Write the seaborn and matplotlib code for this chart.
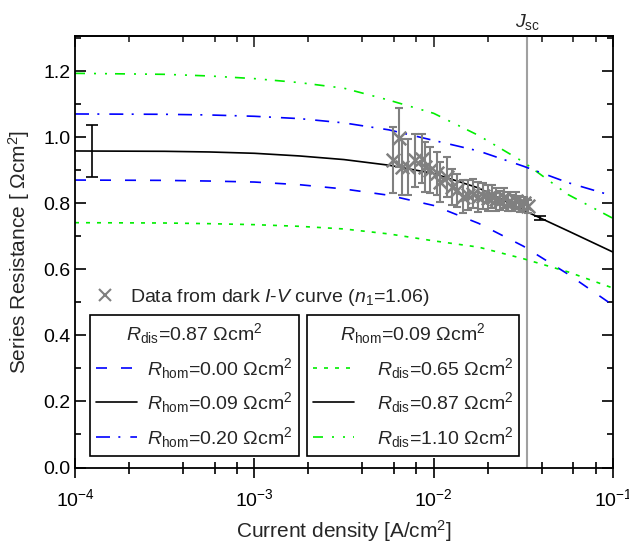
import matplotlib
matplotlib.use("Agg")
import matplotlib.pyplot as plt
import matplotlib.ticker as mticker
import seaborn as sns
import numpy as np
import pandas as pd
from matplotlib.lines import Line2D

# ---------------- data ----------------
J_model = [1e-4, 3.16e-4, 5.62e-4, 1e-3, 1.78e-3, 3.16e-3, 5.62e-3, 1e-2, 1.78e-2, 3.16e-2, 5.62e-2, 1e-1]
R_hom000 = [0.870, 0.869, 0.867, 0.864, 0.856, 0.843, 0.824, 0.793, 0.739, 0.670, 0.585, 0.491]
R_hom009 = [0.958, 0.957, 0.955, 0.951, 0.943, 0.932, 0.915, 0.890, 0.846, 0.779, 0.716, 0.652]
R_hom020 = [1.070, 1.069, 1.067, 1.063, 1.056, 1.043, 1.022, 0.990, 0.958, 0.912, 0.862, 0.822]
R_dis065 = [0.741, 0.740, 0.738, 0.735, 0.730, 0.722, 0.707, 0.686, 0.667, 0.632, 0.592, 0.543]
R_dis110 = [1.193, 1.190, 1.185, 1.177, 1.165, 1.148, 1.112, 1.072, 1.005, 0.925, 0.826, 0.754]

J_data = [5.94e-3, 6.41e-3, 6.67e-3, 7.20e-3, 7.87e-3, 8.61e-3, 8.95e-3, 9.55e-3,
          1.045e-2, 1.086e-2, 1.189e-2, 1.268e-2, 1.352e-2, 1.459e-2, 1.556e-2,
          1.660e-2, 1.770e-2, 1.888e-2, 2.01e-2, 2.12e-2, 2.23e-2, 2.35e-2,
          2.47e-2, 2.60e-2, 2.74e-2, 2.88e-2, 3.03e-2, 3.19e-2, 3.36e-2]
R_data = [0.930, 0.998, 0.910, 0.910, 0.930, 0.935, 0.910, 0.900, 0.890, 0.865,
          0.880, 0.849, 0.839, 0.819, 0.824, 0.829, 0.819, 0.822, 0.815, 0.820,
          0.812, 0.808, 0.815, 0.805, 0.800, 0.808, 0.798, 0.800, 0.790]
E_data = [0.100, 0.090, 0.085, 0.085, 0.080, 0.075, 0.075, 0.070, 0.065, 0.060,
          0.060, 0.055, 0.050, 0.050, 0.045, 0.045, 0.045, 0.040, 0.040, 0.035,
          0.035, 0.030, 0.030, 0.030, 0.025, 0.025, 0.025, 0.020, 0.020]

J_err_black = [1.25e-4, 3.93e-2]
R_err_black = [0.958, 0.755]
E_err_black = [0.078, 0.006]

J_sc = 0.0332

# ---------------- style ----------------
sns.set_theme(style="ticks")
plt.rcParams["font.family"] = ["Liberation Sans", "DejaVu Sans"]
plt.rcParams["mathtext.fontset"] = "custom"
plt.rcParams["mathtext.rm"] = "Liberation Sans"
plt.rcParams["mathtext.it"] = "Liberation Sans:italic"
plt.rcParams["mathtext.bf"] = "Liberation Sans:bold"
FS = 14

fig = plt.figure(figsize=(6.29, 5.47), dpi=100)
ax = fig.add_axes([75/629, 1-467.5/547, 538/629, 431.5/547])

BLUE = "#0000ff"
GREEN = "#00ee00"
LW = 1.2

ds_dash = (0, (6.6, 8.4))
ds_dot = (0, (2.4, 4.2))
ds_dashdot = (0, (8.4, 5.0, 1.2, 6.0))
ds_dashdotdot = (0, (6.0, 5.4, 1.2, 5.4, 1.2, 4.8))

sns.lineplot(x=J_model, y=R_dis110, ax=ax, color=GREEN, lw=LW, linestyle=ds_dashdotdot)
sns.lineplot(x=J_model, y=R_hom020, ax=ax, color=BLUE, lw=LW, linestyle=ds_dashdot)
sns.lineplot(x=J_model, y=R_hom009, ax=ax, color="black", lw=LW)
sns.lineplot(x=J_model, y=R_hom000, ax=ax, color=BLUE, lw=LW, linestyle=ds_dash)
sns.lineplot(x=J_model, y=R_dis065, ax=ax, color=GREEN, lw=LW, linestyle=ds_dot)

ax.errorbar(J_err_black, R_err_black, yerr=E_err_black, fmt="none", ecolor="black",
            elinewidth=1.2, capsize=4, capthick=1.2, zorder=4)

GRAY = "#808080"
ax.errorbar(J_data, R_data, yerr=E_data, fmt="none", ecolor=GRAY,
            elinewidth=1.5, capsize=3, capthick=1.5, zorder=5)
sns.scatterplot(x=J_data, y=R_data, ax=ax, marker="x", color=GRAY, s=95,
                linewidth=1.8, zorder=6)

ax.axvline(J_sc, color="#a0a0a0", lw=1.5, zorder=1)
ax.text(J_sc, 1.318, r"$J_\mathrm{sc}$", ha="center", va="bottom", fontsize=FS)

ax.set_xscale("log")
ax.set_xlim(1e-4, 1e-1)
ax.set_ylim(0, 1.306)
ax.xaxis.set_major_locator(mticker.LogLocator(base=10, numticks=10))
ax.xaxis.set_minor_locator(mticker.LogLocator(base=10, subs=(2, 4, 6, 8), numticks=10))
ax.xaxis.set_minor_formatter(mticker.NullFormatter())
ax.set_yticks(np.arange(0, 1.21, 0.2))
ax.set_yticklabels([f"{v:.1f}" for v in np.arange(0, 1.21, 0.2)])
ax.set_yticks(np.arange(0.1, 1.31, 0.2), minor=True)

for s in ax.spines.values():
    s.set_linewidth(1.3)
    s.set_color("black")

ax.tick_params(axis="y", which="both", direction="in", left=True, right=True,
               labelsize=FS, colors="black")
ax.tick_params(axis="y", which="major", length=8, width=1.2)
ax.tick_params(axis="y", which="minor", length=4.5, width=1.2)
ax.tick_params(axis="x", which="both", direction="inout", bottom=True, top=False,
               labelsize=FS, colors="black", pad=8)
ax.tick_params(axis="x", which="major", length=14, width=1.2)
ax.tick_params(axis="x", which="minor", length=9, width=1.2)

sec = ax.secondary_xaxis("top")
sec.xaxis.set_major_locator(mticker.LogLocator(base=10, numticks=10))
sec.xaxis.set_minor_locator(mticker.LogLocator(base=10, subs=(2, 4, 6, 8), numticks=10))
sec.xaxis.set_minor_formatter(mticker.NullFormatter())
sec.tick_params(axis="x", which="both", direction="in", labeltop=False)
sec.tick_params(axis="x", which="major", length=8, width=1.2)
sec.tick_params(axis="x", which="minor", length=4.5, width=1.2)
sec.spines["top"].set_linewidth(1.3)

ax.set_xlabel("Current density [A/cm$^2$]", fontsize=FS + 1, labelpad=6)
ax.set_ylabel("Series Resistance [ \u03a9cm$^2$]", fontsize=FS + 1, labelpad=8)

# ---------------- legends ----------------
h_data = Line2D([], [], marker="x", color=GRAY, linestyle="none", markersize=8, mew=1.5)
leg0 = ax.legend([h_data], [r"Data from dark $I$-$V$ curve ($n_1$=1.06)"],
                 loc="center left", bbox_to_anchor=(0.005, 0.395), frameon=False,
                 fontsize=FS, handletextpad=0.3, borderaxespad=0)
ax.add_artist(leg0)

def hl(color, ls):
    return Line2D([], [], color=color, lw=LW, linestyle=ls)

om = "\u03a9cm$^2$"
leg1 = ax.legend([hl(BLUE, ds_dash), hl("black", "-"), hl(BLUE, ds_dashdot)],
                 [r"$R_\mathrm{hom}$=0.00 " + om, r"$R_\mathrm{hom}$=0.09 " + om,
                  r"$R_\mathrm{hom}$=0.20 " + om],
                 title=r"$R_\mathrm{dis}$=0.87 " + om, title_fontsize=FS,
                 loc="upper left", bbox_to_anchor=(0.028, 0.353), fontsize=FS,
                 fancybox=False, edgecolor="black", framealpha=1, borderaxespad=0,
                 handlelength=2.1, handletextpad=0.55, labelspacing=0.5,
                 borderpad=0.3)
leg1.get_frame().set_linewidth(1.2)
ax.add_artist(leg1)

leg2 = ax.legend([hl(GREEN, ds_dot), hl("black", "-"), hl(GREEN, ds_dashdotdot)],
                 [r"$R_\mathrm{dis}$=0.65 " + om, r"$R_\mathrm{dis}$=0.87 " + om,
                  r"$R_\mathrm{dis}$=1.10 " + om],
                 title=r"$R_\mathrm{hom}$=0.09 " + om, title_fontsize=FS,
                 loc="upper left", bbox_to_anchor=(0.431, 0.353), fontsize=FS,
                 fancybox=False, edgecolor="black", framealpha=1, borderaxespad=0,
                 handlelength=2.1, handletextpad=1.2, labelspacing=0.5,
                 borderpad=0.3)
leg2.get_frame().set_linewidth(1.2)

fig.savefig("out.png", dpi=100)
